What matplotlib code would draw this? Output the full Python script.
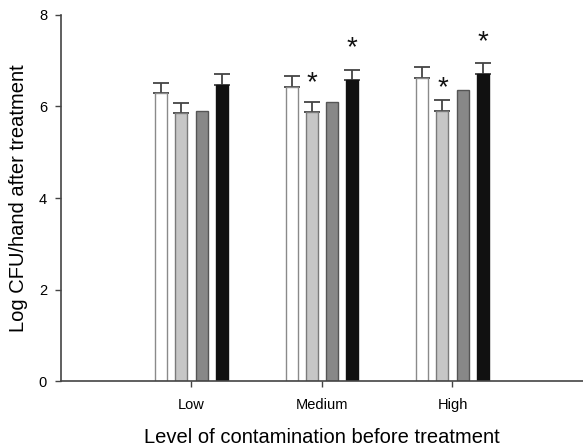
import matplotlib.pyplot as plt
import numpy as np

plt.rcParams['font.family'] = ['Liberation Sans', 'DejaVu Sans']

# data
groups = ['Low', 'Medium', 'High']
treat_a = [6.30, 6.43, 6.63]   # white
treat_b = [5.85, 5.87, 5.90]   # light gray
treat_c = [5.90, 6.10, 6.35]   # mid gray
treat_d = [6.46, 6.58, 6.72]   # black
err_a = [0.21, 0.23, 0.23]
err_b = [0.22, 0.22, 0.24]
err_c = [0.0, 0.0, 0.0]
err_d = [0.24, 0.21, 0.23]
# (group index, series index, y of star)
stars = [(1, 1, 6.50), (1, 3, 7.28), (2, 1, 6.41), (2, 3, 7.41)]

series = [treat_a, treat_b, treat_c, treat_d]
errors = [err_a, err_b, err_c, err_d]
colors = ['white', '#c6c6c6', '#888888', '#111111']
edges = ['#8a8a8a', '#7a7a7a', '#555555', '#111111']

fig = plt.figure(figsize=(5.83, 4.46), dpi=100)
ax = fig.add_axes([0.1046, 0.1457, 0.8954, 0.8207])

x = np.arange(1, len(groups) + 1)
step = 0.154
width = 0.092
for i, (vals, errs) in enumerate(zip(series, errors)):
    pos = x + (i - 1.5) * step
    ax.bar(pos, vals, width, color=colors[i], edgecolor=edges[i], linewidth=1.0, zorder=2)
    errs = np.array(errs)
    mask = errs > 0
    if mask.any():
        ax.errorbar(pos[mask], np.array(vals)[mask], yerr=[np.zeros(mask.sum()), errs[mask]],
                    fmt='none', ecolor='#444444', elinewidth=1.3, capsize=5.5, capthick=1.3, zorder=1)

for g, s, y in stars:
    ax.text(x[g] + (s - 1.5) * step, y, '*', ha='center', va='center', fontsize=20, color='#111111')

ax.set_xlim(0, 4)
ax.set_ylim(0, 8)
ax.set_xticks(x)
ax.set_xticklabels(groups, fontsize=10.5)
ax.set_yticks([0, 2, 4, 6, 8])
ax.tick_params(axis='y', labelsize=10.5, length=4, width=1, color='#444444', pad=6)
ax.tick_params(axis='x', length=4, width=1, color='#444444', pad=8)
for side in ['top', 'right']:
    ax.spines[side].set_visible(False)
for side in ['left', 'bottom']:
    ax.spines[side].set_color('#444444')
    ax.spines[side].set_linewidth(1.2)

ax.set_xlabel('Level of contamination before treatment', fontsize=14.5, labelpad=12)
ax.set_ylabel('Log CFU/hand after treatment', fontsize=14.5, labelpad=8)

fig.savefig('out.png', dpi=100)
